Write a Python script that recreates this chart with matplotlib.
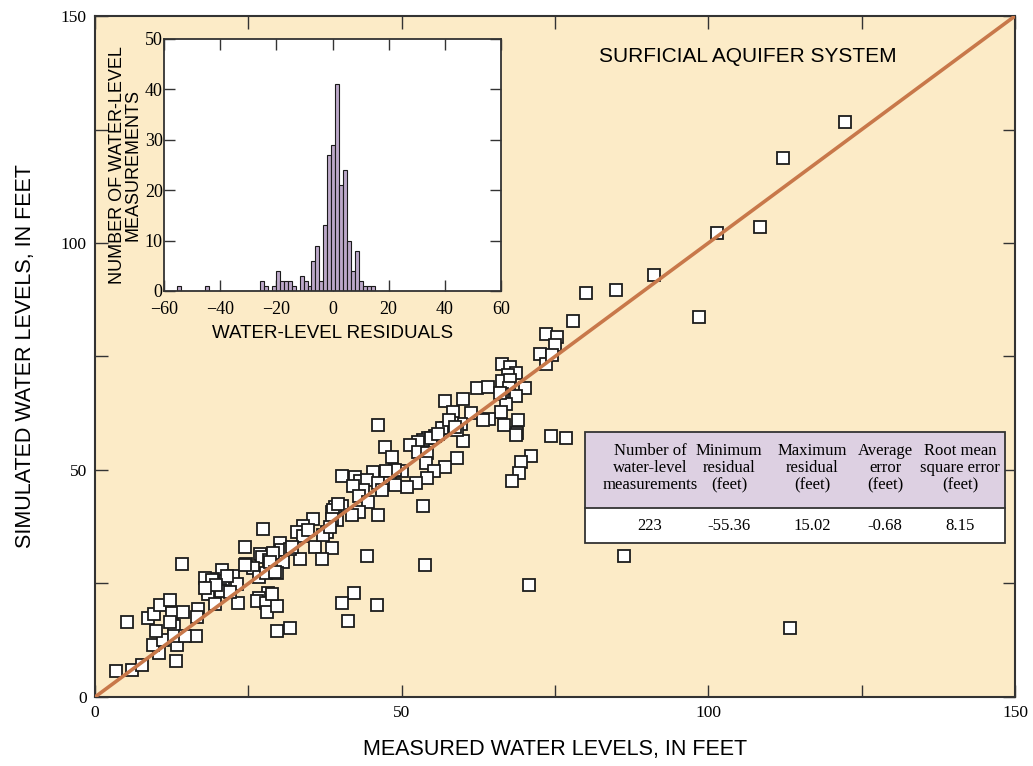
import numpy as np
import matplotlib
matplotlib.use("Agg")
import matplotlib.pyplot as plt
from matplotlib.patches import Rectangle

# Measured vs. simulated water levels (feet)
measured = [
    122.3, 112.2, 101.4, 108.4, 91.1, 85.0, 80.1, 98.5, 77.9, 73.5,
    75.3, 75.0, 72.6, 73.5, 74.5, 76.8, 74.4, 71.1, 69.5, 69.1,
    68.0, 70.8, 86.3, 113.3, 66.4, 67.7, 68.6, 67.3, 66.4, 67.7,
    62.3, 64.1, 70.1, 67.5, 66.4, 68.6, 67.0, 66.0, 60.0, 57.1,
    58.4, 61.3, 66.2, 64.2, 63.3, 66.7, 69.0, 68.8, 68.6, 59.7,
    57.9, 60.0, 59.0, 57.1, 57.2, 58.2, 56.6, 59.0, 55.4, 54.3,
    53.5, 52.7, 51.4, 52.7, 54.1, 47.3, 48.4, 46.1, 54.0, 55.3,
    54.1, 52.3, 50.9, 50.1, 48.9, 47.4, 45.3, 40.3, 42.4, 43.2,
    44.3, 46.1, 48.1, 48.9, 46.8, 43.7, 42.1, 43.0, 44.5, 43.0,
    40.3, 39.1, 38.6, 46.1, 53.5, 53.8, 44.4, 42.2, 40.3, 46.0,
    41.3, 35.5, 33.9, 32.9, 33.9, 35.9, 38.6, 37.0, 33.4, 30.2,
    30.3, 31.8, 30.7, 29.7, 26.9, 27.2, 28.4, 24.6, 25.8, 26.7,
    27.9, 27.4, 24.5, 37.8, 38.8, 39.5, 38.6, 37.2, 41.9, 38.3,
    32.1, 29.0, 20.7, 22.5, 23.2, 20.9, 19.2, 17.9, 18.4, 20.4,
    28.2, 26.7, 14.2, 24.5, 28.5, 29.3, 18.8, 20.5, 18.4, 19.6,
    23.3, 26.4, 27.9, 28.0, 29.7, 29.7, 31.8, 28.9, 19.2, 3.4,
    6.0, 7.7, 5.2, 13.2, 10.4, 9.5, 11.1, 13.4, 9.9, 12.9,
    12.9, 16.5, 14.7, 8.6, 9.6, 10.6, 12.2, 12.6, 14.3, 12.2,
    16.8, 16.6, 19.1, 21.5, 19.7, 22.0, 17.9, 34.7, 39.6, 57.7,
    58.7, 54.8, 55.9,
]
simulated = [
    126.7, 118.7, 102.2, 103.5, 93.0, 89.6, 89.0, 83.7, 82.8, 80.0,
    79.3, 77.5, 75.6, 73.3, 75.3, 57.0, 57.5, 53.1, 51.8, 49.3,
    47.6, 24.7, 31.1, 15.2, 73.3, 72.7, 71.4, 70.9, 69.6, 69.8,
    68.1, 68.3, 68.1, 68.1, 66.7, 66.3, 64.5, 67.0, 65.6, 65.2,
    62.8, 62.6, 62.8, 61.2, 61.0, 59.9, 61.0, 58.1, 57.7, 60.1,
    59.9, 56.4, 52.6, 50.7, 59.3, 60.4, 59.3, 58.8, 57.5, 57.0,
    56.6, 56.2, 55.5, 54.0, 53.7, 55.1, 52.9, 59.9, 51.5, 49.8,
    48.2, 47.1, 46.3, 49.8, 50.0, 49.8, 49.6, 48.7, 48.5, 47.6,
    47.8, 47.1, 47.1, 46.7, 45.6, 45.6, 46.5, 44.3, 43.0, 40.7,
    42.1, 41.9, 40.7, 40.1, 42.1, 29.1, 31.1, 22.9, 20.7, 20.3,
    16.7, 39.2, 37.7, 36.3, 35.5, 33.0, 32.8, 30.4, 30.4, 33.9,
    32.4, 32.6, 29.7, 27.3, 31.5, 30.8, 30.2, 29.3, 28.4, 26.4,
    27.3, 37.0, 33.0, 36.3, 41.2, 39.0, 39.2, 35.7, 40.1, 37.4,
    33.0, 31.7, 28.0, 26.7, 24.9, 25.6, 26.0, 26.2, 23.6, 23.6,
    22.9, 21.8, 29.3, 29.1, 29.7, 27.5, 24.0, 23.3, 22.7, 20.5,
    20.7, 21.1, 20.7, 18.7, 20.0, 14.5, 15.2, 22.7, 25.1, 5.7,
    5.9, 7.0, 16.5, 7.9, 9.7, 11.5, 12.6, 11.5, 14.5, 15.6,
    13.4, 13.4, 13.4, 17.4, 18.3, 20.3, 21.4, 18.5, 18.7, 16.5,
    19.4, 17.6, 25.8, 26.7, 24.7, 23.1, 24.0, 36.8, 42.5, 61.0,
    59.5, 57.0, 57.9,
]

# Residual histogram: counts per bin, 50 equal bins spanning min..max residual
min_residual = -55.36
max_residual = 15.02
residual_counts = [
    1, 0, 0, 0, 0, 0, 0, 1, 0, 0,
    0, 0, 0, 0, 0, 0, 0, 0, 0, 0,
    0, 2, 1, 0, 1, 4, 2, 2, 2, 1,
    0, 3, 2, 1, 6, 9, 2, 13, 27, 29,
    41, 21, 24, 10, 4, 8, 2, 1, 1, 1,
]

# Summary statistics table
table_headers = [
    "Number of\nwater-level\nmeasurements",
    "Minimum\nresidual\n(feet)",
    "Maximum\nresidual\n(feet)",
    "Average\nerror\n(feet)",
    "Root mean\nsquare error\n(feet)",
]
table_values = ["223", "-55.36", "15.02", "-0.68", "8.15"]

BG = "#FCEBC7"
LINE = "#C8784A"
SPINE = "#333333"
SERIF = ["Liberation Serif", "DejaVu Serif"]
SANS = ["Liberation Sans", "DejaVu Sans"]

fig = plt.figure(figsize=(10.33, 7.66), dpi=100)
fig.patch.set_facecolor("white")

# ---- main scatter ----
ax = fig.add_axes([0.0920, 0.0901, 0.8906, 0.8890])
ax.set_facecolor(BG)
ax.set_xlim(0, 150)
ax.set_ylim(0, 150)
ax.plot(measured, simulated, linestyle="none", marker="s", markersize=9,
        markerfacecolor="white", markeredgecolor="#1c1c1c",
        markeredgewidth=1.3, zorder=3)
ax.plot([0, 150], [0, 150], color=LINE, linewidth=2.6, zorder=4,
        solid_capstyle="butt")

ax.set_xticks([0, 50, 100, 150])
ax.set_yticks([0, 50, 100, 150])
ax.set_xticks([25, 75, 125], minor=True)
ax.set_yticks([25, 75, 125], minor=True)
for which in ("major", "minor"):
    ax.tick_params(axis="both", which=which, direction="in", length=9,
                   width=1.0, color=SPINE, top=True, right=True)
ax.tick_params(axis="both", which="major", labelsize=12.5, pad=6)
for lab in ax.get_xticklabels() + ax.get_yticklabels():
    lab.set_family(SERIF)
for s in ax.spines.values():
    s.set_color(SPINE)
    s.set_linewidth(1.5)

ax.set_xlabel("MEASURED WATER LEVELS, IN FEET", family=SANS, fontsize=15.5,
              labelpad=13)
ax.set_ylabel("SIMULATED WATER LEVELS, IN FEET", family=SANS, fontsize=15.5,
              labelpad=18)
ax.text(0.71, 0.940, "SURFICIAL AQUIFER SYSTEM", transform=ax.transAxes,
        family=SANS, fontsize=15, ha="center", va="center")

# ---- inset histogram ----
ins = fig.add_axes([0.1588, 0.6202, 0.3262, 0.3290])
ins.set_facecolor("white")
edges = np.linspace(min_residual, max_residual, len(residual_counts) + 1)
ins.bar(edges[:-1], residual_counts, width=np.diff(edges), align="edge",
        color="#BCA8C9", edgecolor="#1a1a1a", linewidth=0.8, zorder=2)
ins.set_xlim(-60, 60)
ins.set_ylim(0, 50)
ins.set_xticks(np.arange(-60, 61, 20))
ins.set_yticks(np.arange(0, 51, 10))
ins.tick_params(axis="both", direction="in", length=8, width=1.0,
                color=SPINE, top=True, right=True, labelsize=13)
ins.tick_params(axis="x", pad=7)
ins.tick_params(axis="y", pad=1)
for lab in ins.get_xticklabels() + ins.get_yticklabels():
    lab.set_family(SERIF)
for s in ins.spines.values():
    s.set_color(SPINE)
    s.set_linewidth(1.3)
ins.set_xlabel("WATER-LEVEL RESIDUALS", family=SANS, fontsize=13.5,
               labelpad=5)
ins.set_ylabel("NUMBER OF WATER-LEVEL\nMEASUREMENTS", family=SANS,
               fontsize=13, labelpad=2, linespacing=0.95)

# ---- statistics table ----
W, H = 1033.0, 766.0
x0, x1 = 585 / W, 1005 / W
y_top, y_mid, y_bot = 1 - 432 / H, 1 - 508 / H, 1 - 543 / H
fig.add_artist(Rectangle((x0, y_mid), x1 - x0, y_top - y_mid,
                         transform=fig.transFigure, facecolor="#DDD0E2",
                         edgecolor="none", zorder=5))
fig.add_artist(Rectangle((x0, y_bot), x1 - x0, y_mid - y_bot,
                         transform=fig.transFigure, facecolor="white",
                         edgecolor="none", zorder=5))
fig.add_artist(Rectangle((x0, y_bot), x1 - x0, y_top - y_bot,
                         transform=fig.transFigure, facecolor="none",
                         edgecolor=SPINE, linewidth=1.3, zorder=6))
fig.add_artist(plt.Line2D([x0, x1], [y_mid, y_mid], transform=fig.transFigure,
                          color=SPINE, linewidth=1.3, zorder=6))
col_x = [650, 729, 812, 885, 960]
for cx, head, val in zip(col_x, table_headers, table_values):
    fig.text(cx / W, (y_top + y_mid) / 2 + 2 / H, head, family=SERIF,
             fontsize=12, ha="center", va="center", linespacing=1.12,
             zorder=7)
    fig.text(cx / W, (y_mid + y_bot) / 2, val, family=SERIF, fontsize=12,
             ha="center", va="center", zorder=7)

fig.savefig("out.png", dpi=100, facecolor=fig.get_facecolor())
